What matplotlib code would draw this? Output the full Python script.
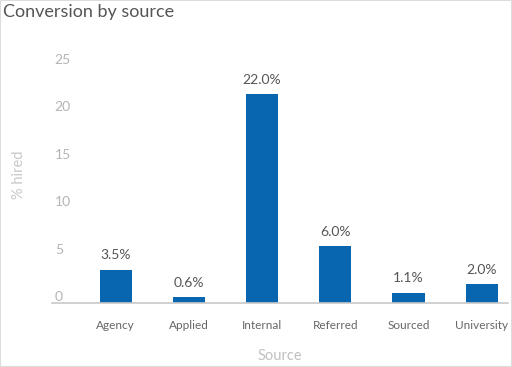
#Bar chart: conversion by source

import matplotlib
matplotlib.use("Agg")
import matplotlib.pyplot as plt
from matplotlib.patches import Rectangle

#Data
sources = ["Agency", "Applied", "Internal", "Referred", "Sourced", "University"]
hired_pct = [3.5, 0.6, 22.0, 6.0, 1.1, 2.0]
y_ticks = [0, 5, 10, 15, 20, 25]

plt.rcParams["font.family"] = ["Lato", "DejaVu Sans"]

fig = plt.figure(figsize=(5.12, 3.67), dpi=100)
#axes placed in pixel terms: left 52, right 508, bottom 303, top 60
ax = fig.add_axes([52 / 512, (367 - 303) / 367, (508 - 52) / 512, (303 - 60) / 367])

x = range(len(sources))
bars = ax.bar(x, hired_pct, width=0.44, color="#0866b0")

#value labels above bars
for b, v in zip(bars, hired_pct):
    ax.annotate(f"{v:.1f}%", (b.get_x() + b.get_width() / 2, b.get_height()),
                xytext=(0, 6), textcoords="offset points",
                ha="center", va="bottom", fontsize=10, color="#555555")

ax.set_xlim(-0.87, 5.36)
ax.set_ylim(0, 25.6)

ax.set_xticks(list(x))
ax.set_xticklabels(sources, fontsize=8.5, color="#666666")
ax.tick_params(axis="x", length=0, pad=12)

ax.set_yticks(y_ticks)
ax.set_yticklabels([str(t) for t in y_ticks], fontsize=10, color="#b4b4b4")
ax.tick_params(axis="y", length=0, pad=-2)
for lab in ax.get_yticklabels():
    lab.set_horizontalalignment("left")
    lab.set_verticalalignment("bottom")

#only a light baseline
for side in ["left", "right", "top"]:
    ax.spines[side].set_visible(False)
ax.spines["bottom"].set_color("#c8c8c8")
ax.spines["bottom"].set_linewidth(1.2)

ax.set_xlabel("Source", fontsize=10.5, color="#c0c0c0", labelpad=13)
fig.text(19 / 512, 1 - 175 / 367, "% hired", rotation=90, fontsize=10.5,
         color="#c8c8c8", ha="center", va="center")

#title
fig.text(3 / 512, 1 - 12 / 367, "Conversion by source", fontsize=13,
         color="#555555", ha="left", va="center")

#thin frame around the figure
fig.patches.append(Rectangle((0, 0), 1, 1, transform=fig.transFigure,
                             fill=False, edgecolor="#dddddd", linewidth=1.5))

fig.savefig("out.png", dpi=100)
